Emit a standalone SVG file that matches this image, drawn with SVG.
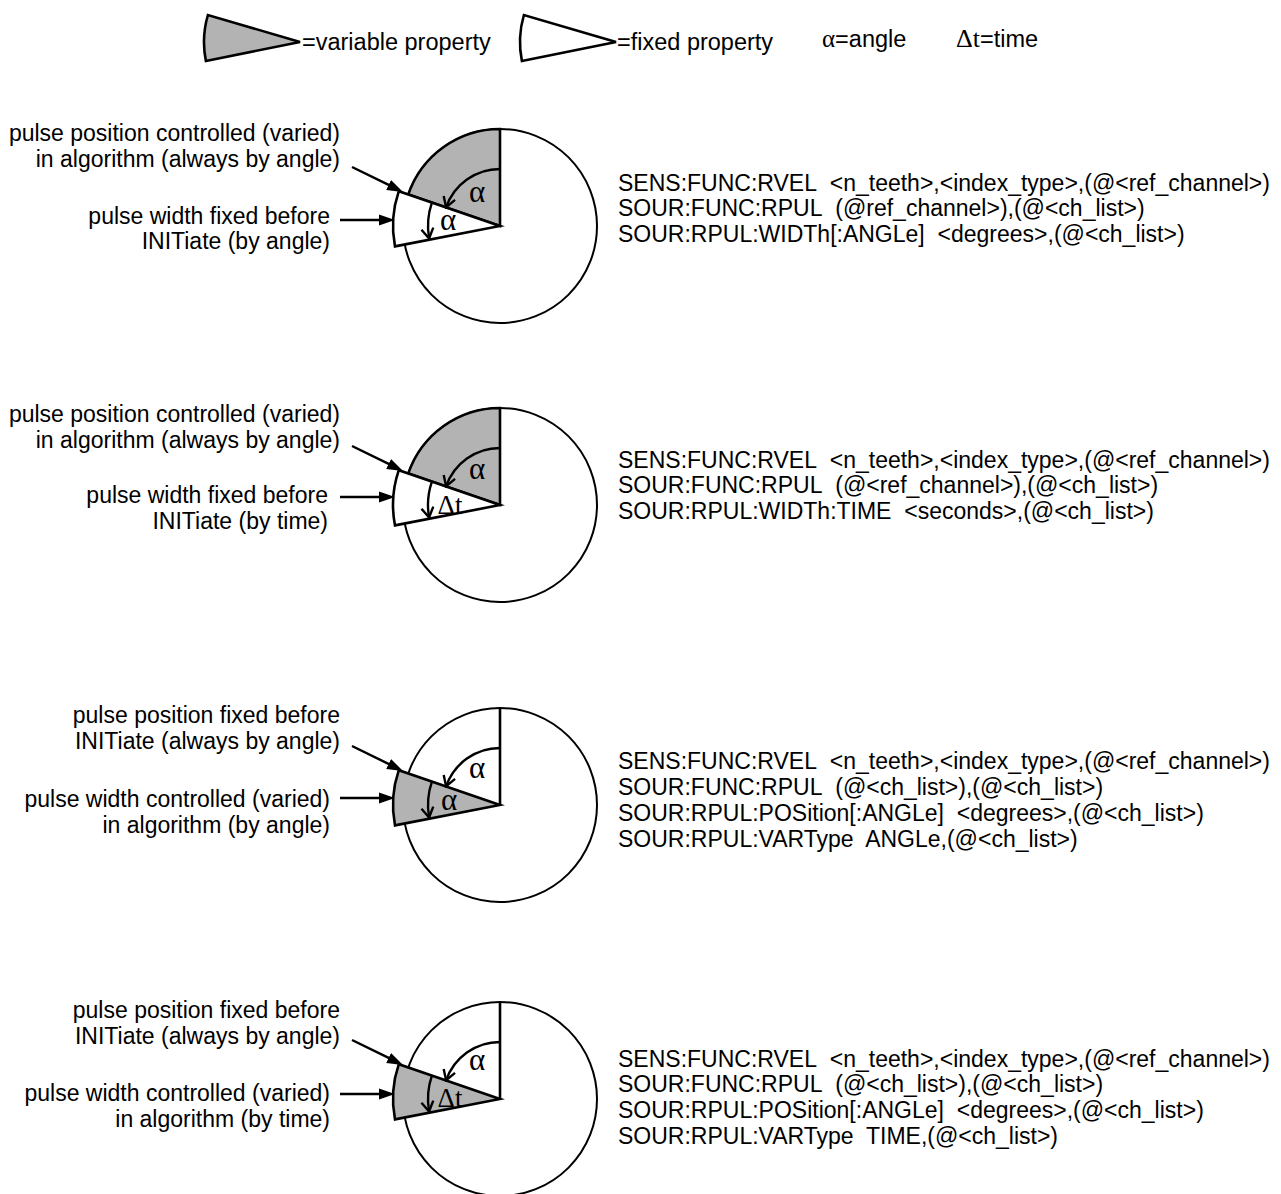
<svg xmlns="http://www.w3.org/2000/svg" width="1281" height="1194" viewBox="0 0 1281 1194">
<style>
  .lbl { font-family: "Liberation Sans", Arial, sans-serif; font-size: 23px; fill: #000; }
  .lr { text-anchor: end; }
  .lg { font-family: "Liberation Sans", Arial, sans-serif; font-size: 23.5px; fill: #000; }
  .cmd { font-family: "Liberation Sans", Arial, sans-serif; font-size: 23px; fill: #000; }
  .gk { font-family: "Liberation Serif", "Times New Roman", serif; font-size: 31px; fill: #000; text-anchor: middle; }
  .dt { font-size: 27px; }
  .circ { fill: #fff; stroke: #000; stroke-width: 2; }
  .var { fill: #b3b3b3; stroke: #000; stroke-width: 2.6; stroke-linejoin: miter; }
  .fix { fill: #fff; stroke: #000; stroke-width: 2.6; stroke-linejoin: miter; }
  .ax { fill: none; stroke: #000; stroke-width: 2.6; }
  .arc { fill: none; stroke: #000; stroke-width: 2.4; marker-end: url(#av); }
  .ptr { fill: none; stroke: #000; stroke-width: 2.5; marker-end: url(#af); }
</style>
<defs>
  <marker id="af" viewBox="-4 -6 17 12" refX="0" refY="0" markerWidth="17" markerHeight="12" markerUnits="userSpaceOnUse" orient="auto">
    <path d="M-4,-5.5 L12,0 L-4,5.5 Z" fill="#000"/>
  </marker>
  <marker id="av" viewBox="-12 -8 14 16" refX="0" refY="0" markerWidth="14" markerHeight="16" markerUnits="userSpaceOnUse" orient="auto">
    <path d="M-10,-6 L0,0 L-10,6" fill="none" stroke="#000" stroke-width="2.4"/>
  </marker>
</defs>

<g id="legend">
  <path class="var" d="M300,42 L207.9,15 A96,96 0 0,0 205.9,61 Z"/>
  <text class="lg" x="302" y="50">=variable property</text>
  <path class="fix" d="M616,42 L523.9,15 A96,96 0 0,0 521.9,61 Z"/>
  <text class="lg" x="617" y="50">=fixed property</text>
  <text class="lg" x="822" y="47"><tspan style="font-family:'Liberation Serif',serif;font-size:25px">α</tspan>=angle</text>
  <text class="lg" x="956" y="47"><tspan style="font-family:'Liberation Serif',serif;font-size:26px">Δt</tspan>=time</text>
</g>

<g id="pie1" transform="translate(0,226)">
  <circle class="circ" cx="500" cy="0" r="97"/>
  <path class="var" d="M500,0 L500,-97 A97,97 0 0,0 408.3,-31.6 Z"/>
  <path class="fix" d="M500,0 L398.8,-34.8 A107,107 0 0,0 395,20.4 Z"/>
  <path class="arc" d="M500,-57 A57,57 0 0,0 446.1,-18.6"/>
  <path class="arc" d="M431.9,-23.4 A72,72 0 0,0 429.1,12.5"/>
  <text class="gk" x="477" y="-24">α</text>
  <text class="gk" x="448" y="4">α</text>
  <text class="lbl lr" x="340" y="-85">pulse position controlled (varied)</text>
  <text class="lbl lr" x="340" y="-59">in algorithm (always by angle)</text>
  <text class="lbl lr" x="330" y="-2">pulse width fixed before</text>
  <text class="lbl lr" x="330" y="23">INITiate (by angle)</text>
</g>
<g id="cmd1" class="cmd">
  <text x="618" y="191">SENS:FUNC:RVEL&#160; &lt;n_teeth&gt;,&lt;index_type&gt;,(@&lt;ref_channel&gt;)</text>
  <text x="618" y="216">SOUR:FUNC:RPUL&#160; (@ref_channel&gt;),(@&lt;ch_list&gt;)</text>
  <text x="618" y="242">SOUR:RPUL:WIDTh[:ANGLe]&#160; &lt;degrees&gt;,(@&lt;ch_list&gt;)</text>
</g>

<g id="pie2" transform="translate(0,505)">
  <circle class="circ" cx="500" cy="0" r="97"/>
  <path class="var" d="M500,0 L500,-97 A97,97 0 0,0 408.3,-31.6 Z"/>
  <path class="fix" d="M500,0 L398.8,-34.8 A107,107 0 0,0 395,20.4 Z"/>
  <path class="arc" d="M500,-57 A57,57 0 0,0 446.1,-18.6"/>
  <path class="arc" d="M431.9,-23.4 A72,72 0 0,0 429.1,12.5"/>
  <text class="gk" x="477" y="-26">α</text>
  <text class="gk dt" x="450" y="9">Δt</text>
  <text class="lbl lr" x="340" y="-83">pulse position controlled (varied)</text>
  <text class="lbl lr" x="340" y="-57">in algorithm (always by angle)</text>
  <text class="lbl lr" x="328" y="-2">pulse width fixed before</text>
  <text class="lbl lr" x="328" y="24">INITiate (by time)</text>
</g>
<g id="cmd2" class="cmd">
  <text x="618" y="468">SENS:FUNC:RVEL&#160; &lt;n_teeth&gt;,&lt;index_type&gt;,(@&lt;ref_channel&gt;)</text>
  <text x="618" y="493">SOUR:FUNC:RPUL&#160; (@&lt;ref_channel&gt;),(@&lt;ch_list&gt;)</text>
  <text x="618" y="519">SOUR:RPUL:WIDTh:TIME&#160; &lt;seconds&gt;,(@&lt;ch_list&gt;)</text>
</g>

<g id="pie3" transform="translate(0,805)">
  <circle class="circ" cx="500" cy="0" r="97"/>
  <path class="ax" d="M500,0 L500,-97"/>
  <path class="var" d="M500,0 L398.8,-34.8 A107,107 0 0,0 395,20.4 Z"/>
  <path class="arc" d="M500,-57 A57,57 0 0,0 446.1,-18.6"/>
  <path class="arc" d="M431.9,-23.4 A72,72 0 0,0 429.1,12.5"/>
  <text class="gk" x="477" y="-27">α</text>
  <text class="gk" x="449" y="5">α</text>
  <text class="lbl lr" x="340" y="-82">pulse position fixed before</text>
  <text class="lbl lr" x="340" y="-56">INITiate (always by angle)</text>
  <text class="lbl lr" x="330" y="2">pulse width controlled (varied)</text>
  <text class="lbl lr" x="330" y="28">in algorithm (by angle)</text>
</g>
<g id="cmd3" class="cmd">
  <text x="618" y="769">SENS:FUNC:RVEL&#160; &lt;n_teeth&gt;,&lt;index_type&gt;,(@&lt;ref_channel&gt;)</text>
  <text x="618" y="795">SOUR:FUNC:RPUL&#160; (@&lt;ch_list&gt;),(@&lt;ch_list&gt;)</text>
  <text x="618" y="821">SOUR:RPUL:POSition[:ANGLe]&#160; &lt;degrees&gt;,(@&lt;ch_list&gt;)</text>
  <text x="618" y="847">SOUR:RPUL:VARType&#160; ANGLe,(@&lt;ch_list&gt;)</text>
</g>

<g id="pie4" transform="translate(0,1099)">
  <circle class="circ" cx="500" cy="0" r="97"/>
  <path class="ax" d="M500,0 L500,-97"/>
  <path class="var" d="M500,0 L398.8,-34.8 A107,107 0 0,0 395,20.4 Z"/>
  <path class="arc" d="M500,-57 A57,57 0 0,0 446.1,-18.6"/>
  <path class="arc" d="M431.9,-23.4 A72,72 0 0,0 429.1,12.5"/>
  <text class="gk" x="477" y="-29">α</text>
  <text class="gk dt" x="450" y="8">Δt</text>
  <text class="lbl lr" x="340" y="-81">pulse position fixed before</text>
  <text class="lbl lr" x="340" y="-55">INITiate (always by angle)</text>
  <text class="lbl lr" x="330" y="2">pulse width controlled (varied)</text>
  <text class="lbl lr" x="330" y="28">in algorithm (by time)</text>
</g>
<g id="cmd4" class="cmd">
  <text x="618" y="1067">SENS:FUNC:RVEL&#160; &lt;n_teeth&gt;,&lt;index_type&gt;,(@&lt;ref_channel&gt;)</text>
  <text x="618" y="1092">SOUR:FUNC:RPUL&#160; (@&lt;ch_list&gt;),(@&lt;ch_list&gt;)</text>
  <text x="618" y="1118">SOUR:RPUL:POSition[:ANGLe]&#160; &lt;degrees&gt;,(@&lt;ch_list&gt;)</text>
  <text x="618" y="1144">SOUR:RPUL:VARType&#160; TIME,(@&lt;ch_list&gt;)</text>
</g>

<g id="connectors">
  <path class="ptr" d="M352,167 L392.2,186.7"/>
  <path class="ptr" d="M340,220 L383,220"/>
  <path class="ptr" d="M352,446 L392.2,465.7"/>
  <path class="ptr" d="M340,497 L383,497"/>
  <path class="ptr" d="M352,746 L392.2,765.7"/>
  <path class="ptr" d="M340,798 L383,798"/>
  <path class="ptr" d="M352,1040 L392.2,1059.7"/>
  <path class="ptr" d="M340,1094 L383,1094"/>
</g>
</svg>
